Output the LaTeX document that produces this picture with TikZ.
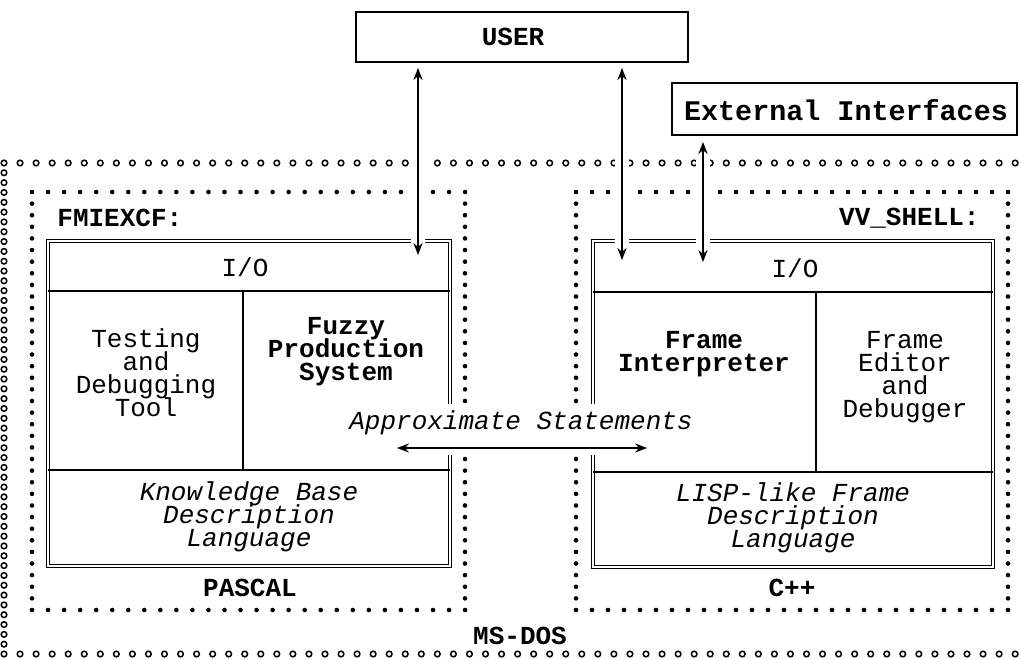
\documentclass[tikz,border=0pt]{standalone}
\usepackage{fontspec}
\setmonofont{Liberation Mono}
\usetikzlibrary{arrows.meta}
\newcommand\tightls{\lineskiplimit=-50pt\relax}
\tikzset{
  txt/.style={inner sep=0pt, align=center, font={\ttfamily\fontsize{13}{11.5}\selectfont\tightls}},
  bold/.style={txt, font={\ttfamily\bfseries\fontsize{13}{11.5}\selectfont\tightls}},
  ital/.style={txt, font={\ttfamily\itshape\fontsize{13}{11.5}\selectfont\tightls}},
  plainbox/.style={draw, line width=0.6pt, inner sep=0pt},
  dbl/.style={draw, line width=0.55pt, double=white, double distance=1.1pt},
  sep/.style={line width=0.6pt},
  circ/.style={line width=0.75pt},
  arr/.style={<->, line width=0.65pt, >={Stealth[length=6pt,width=4.6pt]},
    preaction={draw=white, line width=7pt, arrows=-}},
}
\begin{document}
\begin{tikzpicture}[x=0.5pt,y=-0.5pt]
\useasboundingbox[fill=white] (0,0) rectangle (1021,658);

% MS-DOS frame (open circles)
\foreach \i in {0,...,63} {
  \draw[circ] (4+\i*16.05,163) circle[radius=1.4pt];
  \draw[circ] (4+\i*16.05,654) circle[radius=1.4pt];
}
\foreach \j in {1,...,49} {
  \draw[circ] (4,163+\j*9.82) circle[radius=1.4pt];
}

% FMIEXCF and VV_SHELL frames (filled dots)
\foreach \i in {0,...,27} {
  \fill (32+\i*16.04,192) circle[radius=1.15pt];
  \fill (32+\i*16.04,610) circle[radius=1.15pt];
  \fill (576+\i*16,192) circle[radius=1.15pt];
  \fill (576+\i*16,610) circle[radius=1.15pt];
}
\foreach \j in {1,...,35} {
  \fill (32,192+\j*11.61) circle[radius=1.15pt];
  \fill (465,192+\j*11.61) circle[radius=1.15pt];
  \fill (576,192+\j*11.61) circle[radius=1.15pt];
  \fill (1008,192+\j*11.61) circle[radius=1.15pt];
}

% left module
\draw[dbl] (48,241) rectangle (450,566);
\draw[sep] (48,291) -- (450,291);
\draw[sep] (243,291) -- (243,470);
\draw[sep] (48,470) -- (450,470);
% right module
\draw[dbl] (593,241) rectangle (993,567);
\draw[sep] (593,292) -- (993,292);
\draw[sep] (816,292) -- (816,472);
\draw[sep] (593,472) -- (993,472);

% top boxes
\node[plainbox, minimum width=166pt, minimum height=25pt] (user) at (522,37) {};
\node[bold] (usertxt) at (513,37) {USER};
\node[plainbox, minimum width=172.5pt, minimum height=26pt] (ext) at (844.5,109) {};
\node[bold, font={\ttfamily\bfseries\fontsize{14.2}{12}\selectfont}] (exttxt) at (846,110) {External Interfaces};

% labels
\node[bold, anchor=west] (fmi) at (57,218) {FMIEXCF:};
\node[bold, anchor=east] (vv) at (980,218) {VV\_SHELL:};
\node[txt] (io1) at (245,267) {I/O};
\node[txt] (io2) at (795,268) {I/O};
\node[txt] (tdt) at (146,373) {Testing\\and\\Debugging\\Tool};
\node[bold] (fps) at (346,352) {Fuzzy\\Production\\System};
\node[bold] (fi) at (704,354) {Frame\\Interpreter};
\node[txt] (fed) at (905,377) {Frame\\Editor\\and\\Debugger};
\node[ital] (kb) at (249,517) {Knowledge Base\\Description\\Language};
\node[ital] (lisp) at (793,518) {LISP-like Frame\\Description\\Language};
\node[bold] (pascal) at (250,588) {PASCAL};
\node[bold] (cpp) at (792,588) {C++};
\node[bold] (msdos) at (520,636) {MS-DOS};

% connectors
\coordinate (u1t) at (418,68);  \coordinate (u1b) at (418,255);
\coordinate (u2t) at (622,68);  \coordinate (u2b) at (622,260);
\coordinate (e1t) at (703,142); \coordinate (e1b) at (703,262);
\draw[arr] (u1t) -- (u1b);
\draw[arr] (u2t) -- (u2b);
\draw[arr] (e1t) -- (e1b);

\node[ital, fill=white, inner xsep=3pt, minimum height=19pt] (apx) at (521,423) {Approximate Statements};
\coordinate (al) at (397,448); \coordinate (ar) at (647,448);
\draw[arr] (al) -- (ar);
\end{tikzpicture}
\end{document}
